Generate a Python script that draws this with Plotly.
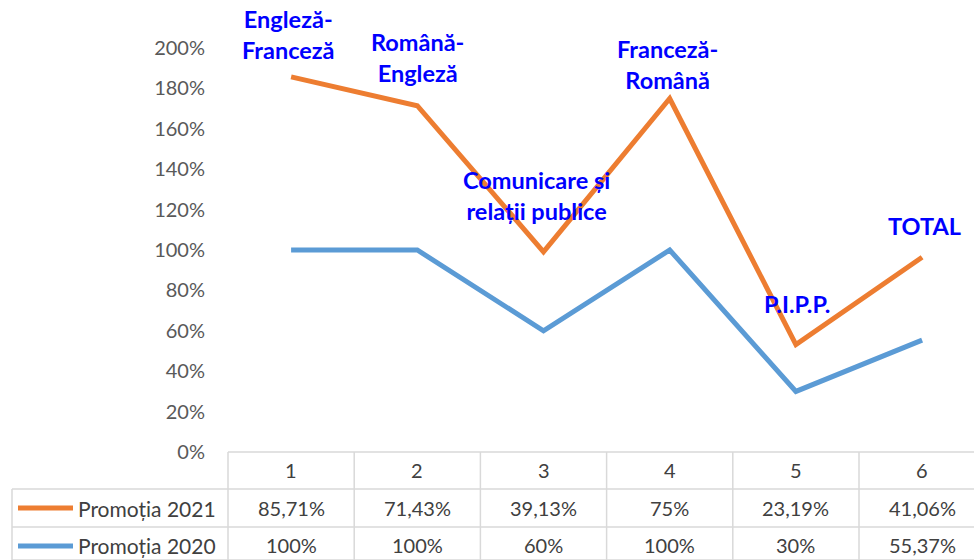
import plotly.graph_objects as go

categories = [1, 2, 3, 4, 5, 6]
category_names = ["Engleză-<br>Franceză", "Română-<br>Engleză", "Comunicare și<br>relații publice",
                  "Franceză-<br>Română", "P.I.P.P.", "TOTAL"]
promotia_2021 = [85.71, 71.43, 39.13, 75, 23.19, 41.06]
promotia_2020 = [100, 100, 60, 100, 30, 55.37]
text_2021 = ["85,71%", "71,43%", "39,13%", "75%", "23,19%", "41,06%"]
text_2020 = ["100%", "100%", "60%", "100%", "30%", "55,37%"]
ytick_vals = [0, 20, 40, 60, 80, 100, 120, 140, 160, 180, 200]

W, H = 974, 560
L, B = 228, 108
plot_w = W - L
plot_h = H - B
px_per_unit = 126.2
xr = [0.5, 0.5 + plot_w / px_per_unit]
px_per_pct = 2.02
yr = [0, plot_h / px_per_pct]

# stacked line (Excel "stacked line" chart)
stack_2020 = promotia_2020
stack_2021 = [a + b for a, b in zip(promotia_2020, promotia_2021)]

ORANGE = "#ED7D31"
BLUE = "#5B9BD5"
FONT = "Lato, Open Sans, Arial, sans-serif"
TXT = "#404040"

fig = go.Figure()
fig.add_trace(go.Scatter(x=categories, y=stack_2020, mode="lines", name="Promoția 2020",
                         line=dict(color=BLUE, width=5), cliponaxis=False))
fig.add_trace(go.Scatter(x=categories, y=stack_2021, mode="lines", name="Promoția 2021",
                         line=dict(color=ORANGE, width=5), cliponaxis=False))

def px2paper_x(px):
    return (px - L) / plot_w

def px2paper_y(py):
    return (plot_h - py) / plot_h

def data2paper_x(xv):
    return (xv - xr[0]) / (xr[1] - xr[0])

shapes = []
grid = "#D9D9D9"
row_tops = [452, 489, 527, 560]
shapes.append(dict(type="line", xref="paper", yref="paper", x0=0, x1=1.02,
                   y0=px2paper_y(row_tops[0]), y1=px2paper_y(row_tops[0]), line=dict(color=grid, width=1.5)))
for ry in row_tops[1:]:
    shapes.append(dict(type="line", xref="paper", yref="paper", x0=px2paper_x(12), x1=1.02,
                       y0=px2paper_y(ry), y1=px2paper_y(ry), line=dict(color=grid, width=1.5)))
for c in categories:
    xb = data2paper_x(c - 0.5)
    shapes.append(dict(type="line", xref="paper", yref="paper", x0=xb, x1=xb,
                       y0=px2paper_y(452), y1=px2paper_y(562), line=dict(color=grid, width=1.5)))
shapes.append(dict(type="line", xref="paper", yref="paper", x0=px2paper_x(12), x1=px2paper_x(12),
                   y0=px2paper_y(489), y1=px2paper_y(562), line=dict(color=grid, width=1.5)))
for ry, col in [(508, ORANGE), (546, BLUE)]:
    shapes.append(dict(type="line", xref="paper", yref="paper", x0=px2paper_x(18), x1=px2paper_x(73),
                       y0=px2paper_y(ry), y1=px2paper_y(ry), line=dict(color=col, width=5)))

annotations = []
font_tbl = dict(family=FONT, size=20, color=TXT)
for c in categories:
    annotations.append(dict(x=c, y=px2paper_y(470), xref="x", yref="paper", text=str(c),
                            showarrow=False, font=font_tbl, xanchor="center", yanchor="middle"))
for c, t in zip(categories, text_2021):
    annotations.append(dict(x=c, y=px2paper_y(508), xref="x", yref="paper", text=t,
                            showarrow=False, font=font_tbl, xanchor="center", yanchor="middle"))
for c, t in zip(categories, text_2020):
    annotations.append(dict(x=c, y=px2paper_y(545), xref="x", yref="paper", text=t,
                            showarrow=False, font=font_tbl, xanchor="center", yanchor="middle"))
for ry, name in [(508, "Promoția 2021"), (545, "Promoția 2020")]:
    annotations.append(dict(x=px2paper_x(76), y=px2paper_y(ry), xref="paper", yref="paper",
                            text=name, showarrow=False, font=dict(family=FONT, size=21, color=TXT),
                            xanchor="left", yanchor="middle"))

label_shift = [(-3, 11), (0, 17), (-7, 25), (-2, 3), (1, 25), (2, 15)]
for c, v, name, (dx, dy) in zip(categories, stack_2021, category_names, label_shift):
    annotations.append(dict(x=c, y=v, xref="x", yref="y", text="<b>" + name + "</b>",
                            showarrow=False, xanchor="center", yanchor="bottom", xshift=dx, yshift=dy,
                            font=dict(family=FONT, size=23.5, color="#0000FF"), align="center"))

fig.update_layout(
    width=W, height=H,
    margin=dict(l=L, r=0, t=0, b=B),
    paper_bgcolor="white", plot_bgcolor="white",
    showlegend=False,
    shapes=shapes, annotations=annotations,
    xaxis=dict(range=xr, showgrid=False, zeroline=False, showline=False, showticklabels=False, fixedrange=True),
    yaxis=dict(range=yr, showgrid=False, zeroline=False, showline=False,
               tickvals=ytick_vals, ticktext=[f"{v}%" for v in ytick_vals],
               tickfont=dict(family=FONT, size=20, color="#595959"), ticklabelstandoff=22, fixedrange=True),
)

fig.write_html("out.html", config={"displayModeBar": False},
               post_script="document.body.style.margin='0';document.body.style.overflow='hidden';")
